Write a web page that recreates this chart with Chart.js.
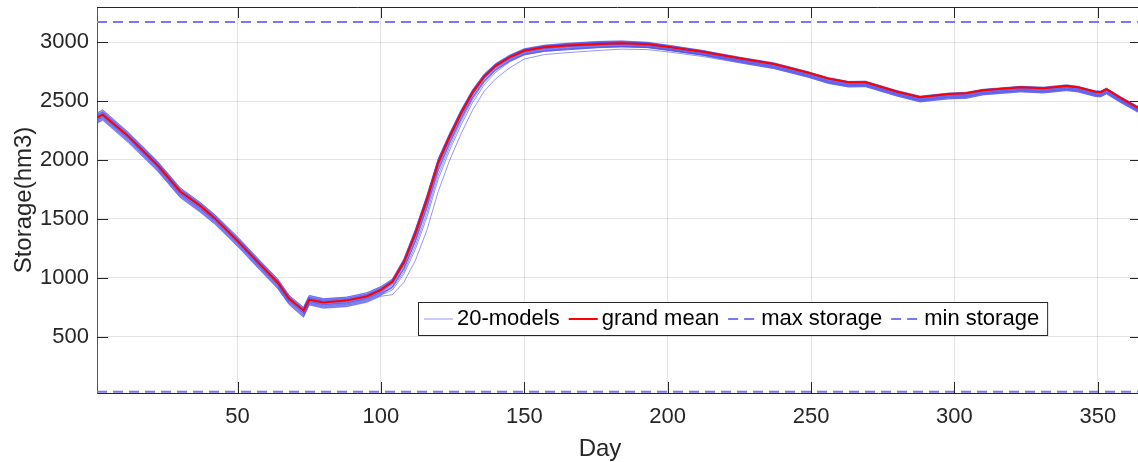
<!DOCTYPE html>
<html>
<head>
<meta charset="utf-8">
<script src="https://cdn.jsdelivr.net/npm/chart.js@4.4.0/dist/chart.umd.min.js"></script>
<style>
  html, body { margin: 0; padding: 0; background: #fff; overflow: hidden; }
  #wrap { width: 1138px; height: 462px; }
</style>
</head>
<body>
<div id="wrap"><canvas id="myChart" width="1138" height="462"></canvas></div>
<script>
// days sampled from the picture, and the grand mean storage at those days (hm3)
const days = [1, 3, 12, 22, 30, 37, 42, 50, 58, 64, 68, 73, 75, 80, 88, 95, 100,
  104, 108, 112, 116, 120, 124, 128, 132, 136, 140, 145, 150,
  157, 165, 176, 184, 193, 201, 212,
  225, 237, 249, 256, 263, 269, 280, 288, 298, 304, 310, 323, 331, 339, 343, 349, 351, 353, 358, 365];

const grandMean = [2360, 2385, 2200, 1958, 1732, 1610, 1506, 1313, 1109, 959, 820, 721, 812, 790, 805, 840, 897,
  965, 1130, 1375, 1661, 1978, 2200, 2400, 2575, 2708, 2800, 2875, 2928,
  2958, 2972, 2986, 2992, 2983, 2958, 2920,
  2864, 2816, 2742, 2692, 2660, 2660, 2580, 2533, 2561, 2567, 2593, 2618, 2609, 2629, 2618, 2580, 2576, 2601, 2525, 2430];

// each model's distance from the grand mean at the same days (hm3)
const model01 = [35,38,30,32,30,28,30,32,30,30,28,25,35,30,28,30,25, 20,25,30,30,30,25,25,20,20,18,15,15, 15,18,20,18,15,12,10, 8,8,6,5,6,8,8,8,6,5,6,6,8,8,6,6,8,8,10,10];
const model02 = [20,22,18,20,18,15,18,20,18,15,15,12,20,18,15,15,12, 10,15,18,20,20,15,15,12,12,10,10,10, 10,12,12,10,10,8,5, 3,2,2,0,2,3,3,2,2,0,2,2,3,2,2,2,3,3,4,4];
const model03 = [5,5,0,2,0,-2,0,2,0,-2,0,-5,5,2,0,0,-2, 0,0,5,5,5,0,0,0,0,0,0,0, 0,2,2,0,0,-2,-3, -5,-5,-5,-6,-5,-4,-4,-5,-5,-6,-5,-5,-5,-5,-5,-5,-5,-5,-4,-4];
const model04 = [-10,-8,-12,-10,-12,-15,-10,-8,-10,-12,-12,-15,-8,-10,-12,-10,-12, -10,-15,-20,-15,-10,-10,-10,-10,-10,-8,-8,-8, -8,-8,-8,-10,-10,-12,-12, -12,-12,-12,-14,-12,-12,-12,-12,-13,-14,-12,-12,-12,-12,-12,-12,-12,-12,-12,-12];
const model05 = [28,30,25,25,22,20,25,25,22,22,20,18,28,25,22,22,20, 15,20,25,25,25,20,18,15,15,12,10,10, 10,12,15,14,12,10,8, 5,5,4,3,4,5,5,5,4,3,4,4,5,5,4,4,5,5,6,6];
const model06 = [-25,-22,-28,-25,-28,-30,-25,-22,-25,-28,-25,-30,-22,-25,-28,-25,-28, -30,-40,-50,-45,-40,-35,-30,-28,-25,-22,-20,-20, -20,-20,-18,-20,-20,-22,-22, -20,-22,-22,-24,-22,-20,-20,-22,-22,-24,-22,-22,-22,-22,-22,-22,-22,-22,-20,-20];
const model07 = [-40,-38,-42,-40,-42,-45,-40,-38,-40,-42,-40,-48,-35,-40,-42,-40,-45, -70,-100,-135,-150,-140,-115,-100,-85,-70,-55,-40,-35, -32,-30,-28,-28,-25,-25,-25, -28,-30,-30,-32,-30,-28,-28,-30,-32,-34,-30,-30,-30,-30,-30,-30,-30,-30,-28,-28];
const model08 = [-50,-48,-55,-50,-52,-55,-50,-48,-50,-52,-50,-58,-45,-50,-52,-50,-55, -110,-170,-230,-260,-245,-200,-175,-150,-125,-110,-90,-70, -62,-60,-55,-50,-45,-42,-40, -38,-40,-40,-42,-40,-38,-38,-40,-42,-44,-40,-40,-40,-40,-40,-40,-40,-40,-38,-38];
const model09 = [12,15,10,12,10,8,12,12,10,8,8,5,12,10,8,8,5, 5,8,10,12,12,10,10,8,8,8,6,6, 6,8,8,6,5,3,2, 0,0,-1,-2,0,1,0,0,-1,-2,0,0,0,0,0,0,0,0,1,1];
const model10 = [-18,-15,-20,-18,-20,-22,-18,-15,-18,-20,-18,-22,-15,-18,-20,-18,-20, -20,-25,-30,-28,-25,-22,-20,-18,-16,-15,-14,-14, -14,-14,-12,-14,-14,-16,-16, -16,-18,-18,-20,-18,-16,-16,-18,-18,-20,-18,-18,-18,-18,-18,-18,-18,-18,-16,-16];
const model11 = [-30,-28,-32,-30,-32,-35,-30,-28,-30,-32,-30,-38,-28,-30,-32,-30,-35, -45,-60,-75,-80,-75,-60,-52,-45,-38,-30,-25,-25, -25,-24,-22,-24,-22,-22,-22, -24,-26,-26,-28,-26,-24,-24,-26,-26,-28,-26,-26,-26,-26,-26,-26,-26,-26,-24,-24];
const model12 = [8,10,5,8,5,3,5,8,5,3,5,0,10,5,5,5,2, 2,5,8,10,10,5,5,5,5,5,5,5, 4,5,5,4,3,2,0, -3,-3,-3,-4,-3,-2,-2,-3,-3,-4,-3,-3,-3,-3,-3,-3,-3,-3,-2,-2];
const model13 = [-35,-32,-38,-35,-38,-40,-35,-32,-35,-38,-35,-42,-30,-35,-38,-35,-38, -40,-50,-60,-60,-55,-45,-40,-38,-35,-30,-28,-28, -28,-28,-25,-26,-25,-28,-28, -32,-34,-34,-36,-34,-32,-32,-34,-34,-36,-34,-34,-34,-34,-34,-34,-34,-34,-32,-32];
const model14 = [-20,-18,-22,-20,-22,-25,-20,-18,-20,-22,-20,-25,-18,-20,-22,-20,-25, -55,-80,-105,-115,-105,-85,-72,-60,-50,-40,-32,-30, -35,-35,-32,-30,-28,-26,-26, -26,-28,-28,-30,-28,-26,-26,-28,-28,-30,-28,-28,-28,-28,-28,-28,-28,-28,-26,-26];
const model15 = [22,25,20,22,20,18,20,22,20,18,18,15,22,20,18,18,15, 12,15,20,22,22,18,18,15,15,12,10,12, 12,14,14,12,10,8,6, 2,2,1,0,2,3,2,2,1,0,2,2,2,2,2,2,2,2,3,3];
const model16 = [-5,-2,-8,-5,-8,-10,-5,-2,-5,-8,-5,-10,-2,-5,-8,-5,-8, -5,-8,-10,-8,-5,-5,-5,-5,-5,-5,-5,-5, -5,-4,-4,-5,-5,-6,-6, -8,-8,-8,-10,-8,-8,-8,-8,-9,-10,-8,-8,-8,-8,-8,-8,-8,-8,-8,-8];
const model17 = [-45,-42,-48,-45,-48,-50,-45,-42,-45,-48,-45,-52,-40,-45,-48,-45,-48, -45,-55,-65,-65,-60,-55,-50,-45,-42,-38,-35,-35, -35,-35,-30,-32,-28,-30,-30, -36,-38,-38,-40,-38,-36,-36,-38,-40,-42,-38,-38,-38,-38,-38,-38,-38,-38,-36,-36];
const model18 = [40,42,35,35,32,30,32,35,32,32,30,28,38,32,30,32,28, 25,30,35,35,35,30,28,25,22,20,18,18, 18,20,22,20,18,15,12, 10,10,8,8,8,10,10,10,8,8,8,8,10,10,8,8,10,10,12,12];
const model19 = [-15,-12,-18,-15,-18,-20,-15,-12,-15,-18,-15,-20,-12,-15,-18,-15,-18, -15,-20,-25,-22,-20,-18,-15,-15,-14,-12,-12,-12, -12,-10,-10,-12,-12,-14,-14, -15,-16,-16,-18,-16,-15,-15,-16,-16,-18,-16,-16,-16,-16,-16,-16,-16,-16,-15,-15];
const model20 = [15,18,12,15,12,10,15,15,12,10,10,8,15,12,10,10,8, 8,12,15,15,15,12,12,10,10,10,8,8, 8,10,10,8,6,5,4, 1,1,0,-1,1,2,1,1,0,-1,1,1,1,1,1,1,1,1,2,2];

const modelDevs = [model01, model02, model03, model04, model05, model06, model07, model08, model09, model10,
  model11, model12, model13, model14, model15, model16, model17, model18, model19, model20];

const maxStorage = 3172;
const minStorage = 30;
const dayRange = [1, 365];

const xTicks = [50, 100, 150, 200, 250, 300, 350];
const yTicks = [500, 1000, 1500, 2000, 2500, 3000];

const FONT = "'Liberation Sans', Arial, Helvetica, sans-serif";
const modelColor = 'rgba(80,80,235,0.6)';
const limitColor = '#7878f0';
const axisColor = '#262626';
const gridColor = 'rgba(38,38,38,0.13)';

const datasets = [];
datasets.push({
  label: 'grand mean',
  data: days.map((d, i) => ({ x: d, y: grandMean[i] })),
  borderColor: '#ff0000', borderWidth: 2, pointRadius: 0, order: 0
});
datasets.push({
  label: 'max storage',
  data: dayRange.map(d => ({ x: d, y: maxStorage })),
  borderColor: limitColor, borderWidth: 2, borderDash: [10, 6], pointRadius: 0, order: 1
});
datasets.push({
  label: 'min storage',
  data: dayRange.map(d => ({ x: d, y: minStorage })),
  borderColor: limitColor, borderWidth: 2, borderDash: [10, 6], pointRadius: 0, order: 1
});
modelDevs.forEach((dev, k) => {
  datasets.push({
    label: k === 0 ? '20-models' : 'model ' + (k + 1),
    data: days.map((d, i) => ({ x: d, y: grandMean[i] + dev[i] })),
    borderColor: modelColor, borderWidth: 1, pointRadius: 0, order: 2
  });
});

const legendItems = [
  { label: '20-models', color: 'rgb(150,150,245)', width: 1, dash: [] },
  { label: 'grand mean', color: '#ff0000', width: 2, dash: [] },
  { label: 'max storage', color: limitColor, width: 2, dash: [10, 6] },
  { label: 'min storage', color: limitColor, width: 2, dash: [10, 6] }
];

// box top line, inner ticks, axis titles, legend
const matlabLook = {
  id: 'matlabLook',
  afterDraw(chart) {
    const { ctx, chartArea: a, scales } = chart;
    ctx.save();
    ctx.strokeStyle = axisColor;
    ctx.lineWidth = 1;
    ctx.beginPath();
    ctx.moveTo(a.left, a.top + 0.5);
    ctx.lineTo(a.right, a.top + 0.5);
    xTicks.forEach(v => {
      const x = Math.round(scales.x.getPixelForValue(v)) + 0.5;
      ctx.moveTo(x, a.bottom); ctx.lineTo(x, a.bottom - 11);
      ctx.moveTo(x, a.top); ctx.lineTo(x, a.top + 11);
    });
    yTicks.forEach(v => {
      const y = Math.round(scales.y.getPixelForValue(v)) + 0.5;
      ctx.moveTo(a.left, y); ctx.lineTo(a.left + 11, y);
      ctx.moveTo(a.right, y); ctx.lineTo(a.right - 8, y);
    });
    ctx.stroke();

    // axis titles
    ctx.fillStyle = axisColor;
    ctx.font = '24px ' + FONT;
    ctx.textAlign = 'center';
    ctx.textBaseline = 'middle';
    ctx.fillText('Day', 600, 449);
    ctx.translate(24, 200);
    ctx.rotate(-Math.PI / 2);
    ctx.fillText('Storage(hm3)', 0, 0);
    ctx.setTransform(1, 0, 0, 1, 0, 0);

    // legend
    ctx.font = '22px ' + FONT;
    const bx = a.left + 321, by = a.top + 295, bh = 33;
    let w = 6;
    legendItems.forEach((it, i) => {
      w += 29 + 4 + ctx.measureText(it.label).width + (i < legendItems.length - 1 ? 9 : 8);
    });
    ctx.fillStyle = '#fff';
    ctx.fillRect(bx, by, w, bh);
    ctx.strokeStyle = axisColor;
    ctx.strokeRect(bx + 0.5, by + 0.5, w, bh);
    let x = bx + 6;
    const cy = by + bh / 2 + 0.5;
    legendItems.forEach(it => {
      ctx.beginPath();
      ctx.strokeStyle = it.color;
      ctx.lineWidth = it.width;
      ctx.setLineDash(it.dash);
      ctx.moveTo(x, cy); ctx.lineTo(x + 29, cy);
      ctx.stroke();
      ctx.setLineDash([]);
      x += 33;
      ctx.fillStyle = '#000';
      ctx.textAlign = 'left';
      ctx.fillText(it.label, x, cy);
      x += ctx.measureText(it.label).width + 9;
    });
    ctx.restore();
  }
};

new Chart(document.getElementById('myChart'), {
  type: 'line',
  data: { datasets: datasets },
  options: {
    responsive: false,
    animation: false,
    layout: { padding: { top: 7, right: 0, bottom: 0, left: 0 } },
    plugins: { legend: { display: false }, tooltip: { enabled: false } },
    scales: {
      x: {
        type: 'linear', min: 1, max: 364,
        afterBuildTicks: s => { s.ticks = xTicks.map(v => ({ value: v })); },
        afterFit: s => { s.height = 69; s.paddingLeft = 0; s.paddingRight = 0; },
        grid: { color: gridColor, drawTicks: false },
        border: { color: axisColor, width: 1 },
        ticks: { font: { family: FONT, size: 22 }, color: axisColor, padding: 11, maxRotation: 0,
          callback: v => String(v) }
      },
      y: {
        type: 'linear', min: 20, max: 3300,
        afterBuildTicks: s => { s.ticks = yTicks.map(v => ({ value: v })); },
        afterFit: s => { s.width = 97; s.paddingTop = 0; s.paddingBottom = 0; },
        grid: { color: gridColor, drawTicks: false },
        border: { color: '#555', width: 1 },
        ticks: { font: { family: FONT, size: 22 }, color: axisColor, padding: 8,
          callback: v => String(v) }
      }
    }
  },
  plugins: [matlabLook]
});
</script>
</body>
</html>
